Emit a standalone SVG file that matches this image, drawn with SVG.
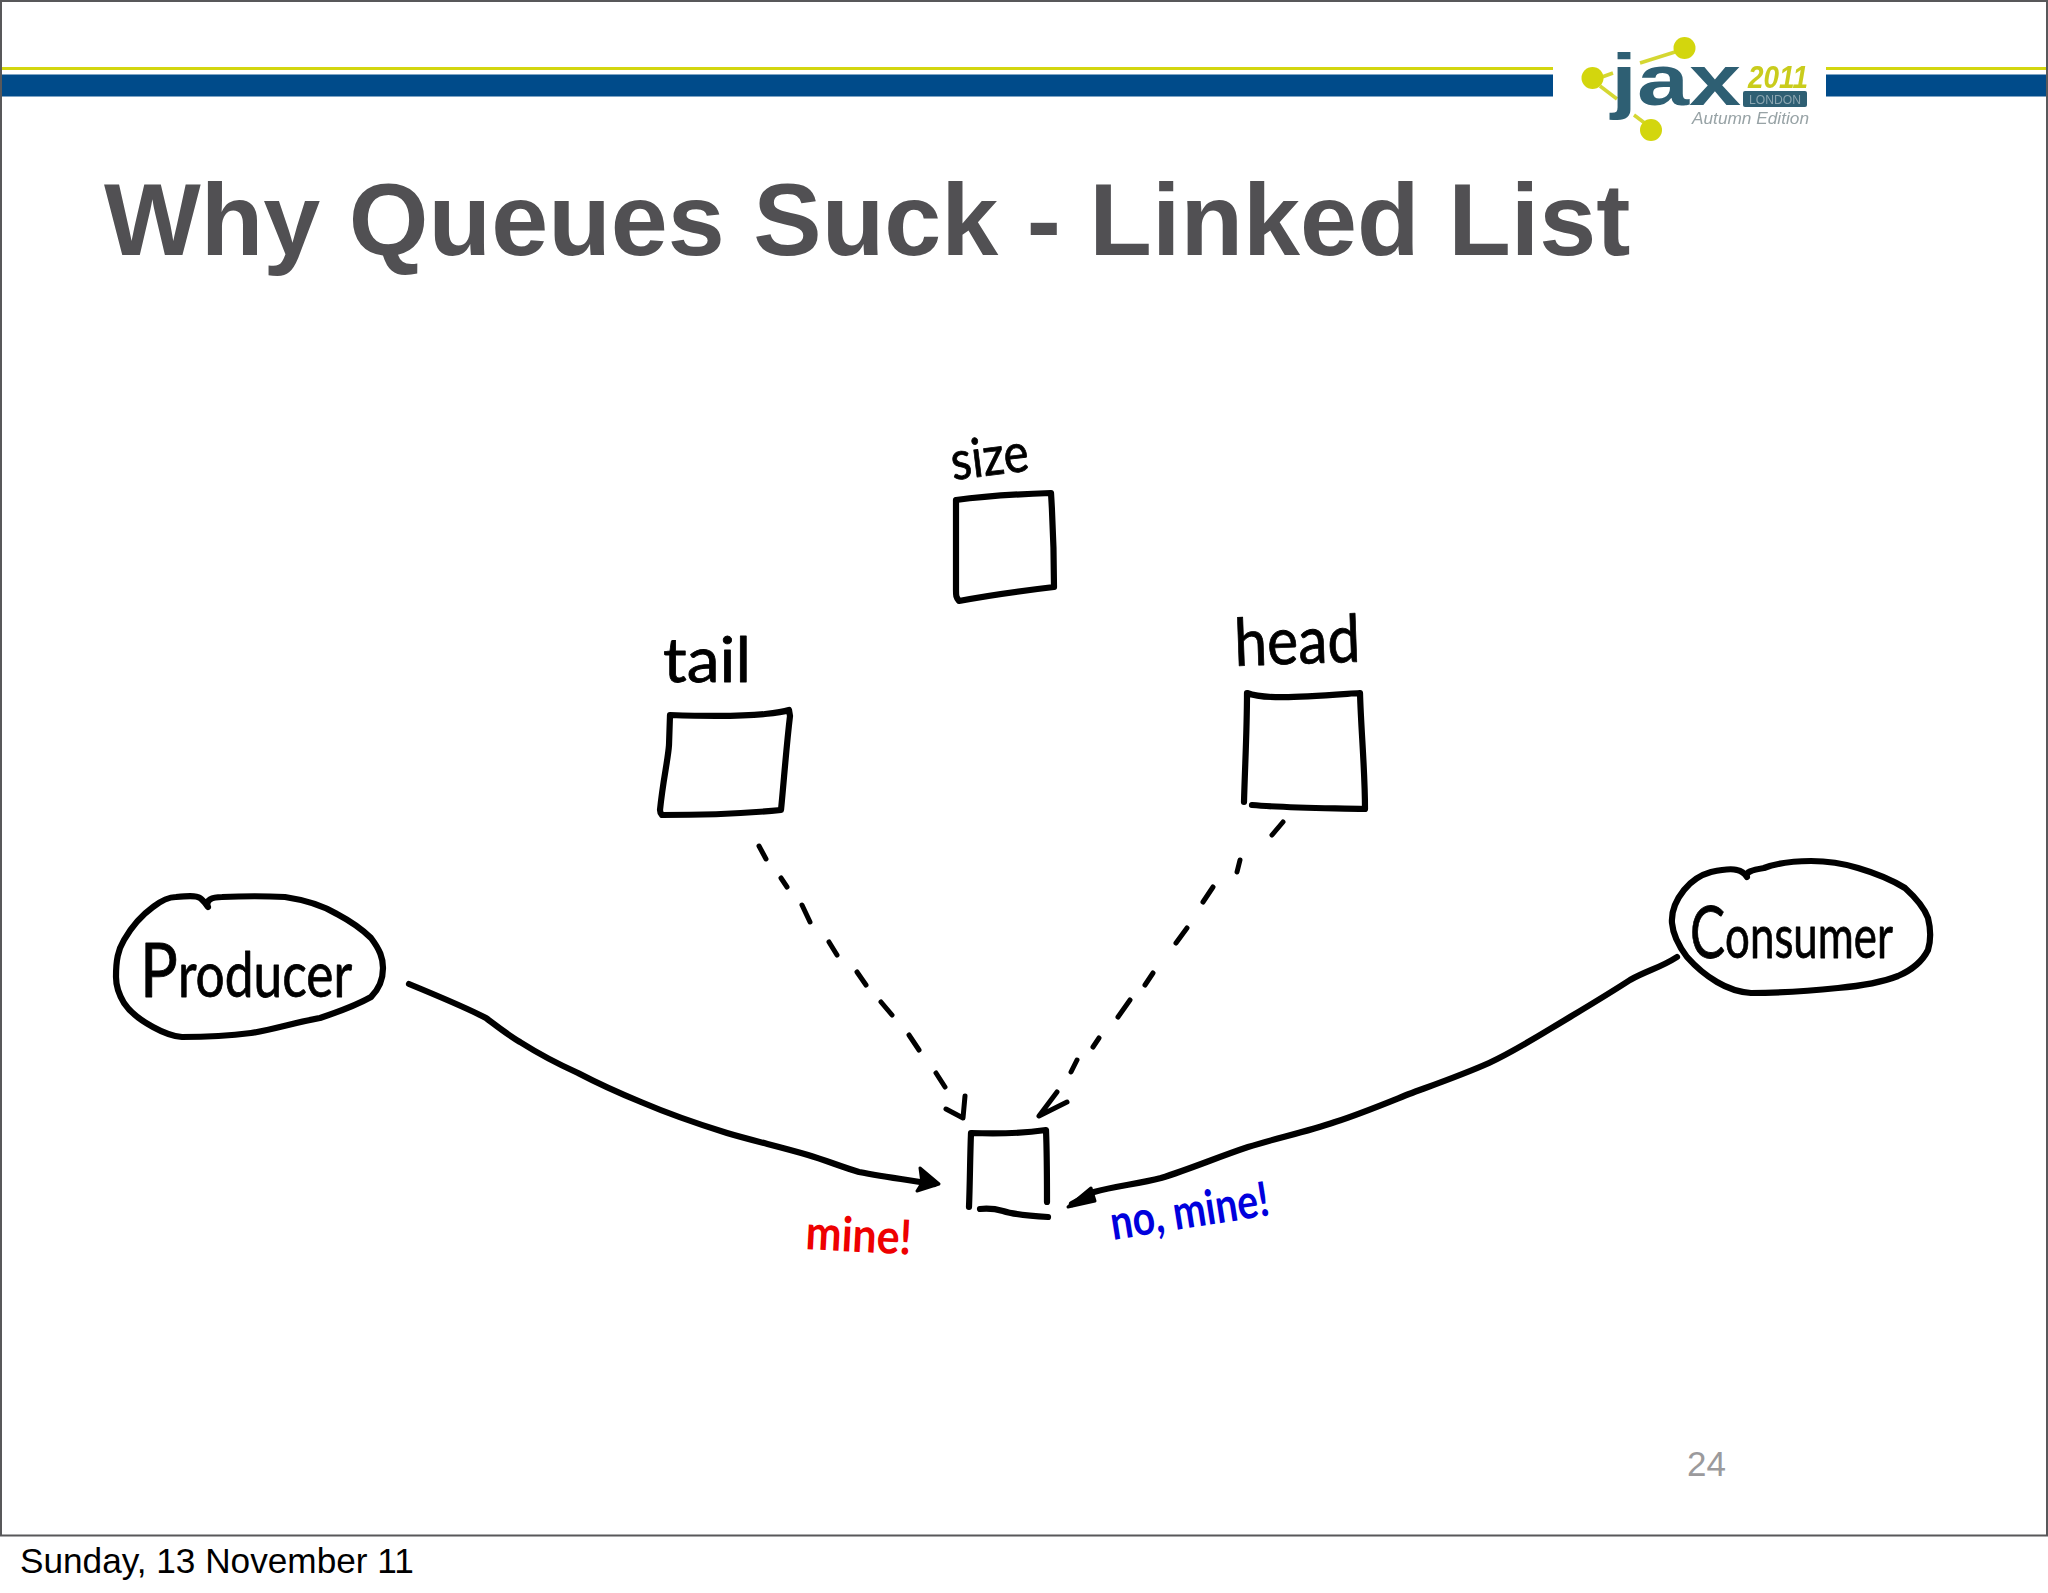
<svg xmlns="http://www.w3.org/2000/svg" width="2048" height="1593" viewBox="0 0 2048 1593">
<style>
.sk{fill:none;stroke:#000;stroke-width:6.2;stroke-linecap:round;stroke-linejoin:round}
.da{fill:none;stroke:#000;stroke-width:5;stroke-linecap:round;stroke-linejoin:round}
.hw{font-family:"Lato","DejaVu Sans",sans-serif;stroke-linejoin:round}
.bar{fill:#004b8a}
.ylw{fill:#d3d60f}
</style>
<defs><filter id="soft" x="-5%" y="-5%" width="110%" height="110%"><feGaussianBlur stdDeviation="0.7"/></filter></defs>
<rect width="2048" height="1593" fill="#fff"/>
<g id="frame" fill="none" stroke="#58585a" stroke-width="2"><path d="M1 1H2047V1535.5H1Z"/></g>
<g id="header">
<rect class="ylw" x="2" y="67" width="1551" height="3"/><rect class="ylw" x="1826" y="67" width="220" height="3"/>
<rect class="bar" x="2" y="74.5" width="1551" height="22"/><rect class="bar" x="1826" y="74.5" width="220" height="22"/>
</g>
<g id="logo" filter="url(#soft)">
<g fill="none" stroke="#d5d733" stroke-width="3.5"><path d="M1640 63L1675 52"/><path d="M1602 77L1613 73"/><path d="M1600 86L1617 99"/><path d="M1634 115L1646 124"/></g>
<g fill="#d3d60f"><circle cx="1684.5" cy="48" r="11"/><circle cx="1592.5" cy="78" r="11"/><circle cx="1651" cy="130" r="11"/></g>
<text transform="translate(1611 105) scale(1.3 1)" font-family="Liberation Sans,sans-serif" font-weight="700" font-size="72" fill="#2f5f73">jax</text>
<text x="1748" y="88" font-family="Liberation Sans,sans-serif" font-weight="700" font-style="italic" font-size="31" fill="#c9cc1e" textLength="60" lengthAdjust="spacingAndGlyphs">2011</text>
<rect x="1743" y="91" width="64" height="16" rx="2" fill="#2f5f73"/>
<text x="1749" y="104" font-family="Liberation Sans,sans-serif" font-size="13" fill="#8aa5b0" textLength="52" lengthAdjust="spacingAndGlyphs">LONDON</text>
<text x="1692" y="124" font-family="Liberation Sans,sans-serif" font-style="italic" font-size="17" fill="#98a3a6" textLength="117" lengthAdjust="spacingAndGlyphs">Autumn Edition</text>
</g>
<text id="title" x="104" y="255" font-family="Liberation Sans,Arial,sans-serif" font-weight="700" font-size="102.5" fill="#515053">Why Queues Suck - Linked List</text>
<g id="connectors">
<path class="sk" d="M409 984C426 991 467 1008 486 1018C498 1027 508 1035 520 1042C539 1054 558 1064 578 1073C599 1084 619 1093 641 1102C669 1114 698 1124 727 1133C754 1141 781 1147 808 1155C825 1160 842 1167 859 1172C884 1177 909 1180 934 1184"/>
<path d="M920 1168L939 1184L917 1191L922 1183Z" fill="#000" stroke="#000" stroke-width="3" stroke-linejoin="round"/>
<path class="sk" d="M1677 957C1660 968 1648 970 1630 980C1610 993 1590 1005 1570 1017C1543 1033 1517 1050 1489 1063C1462 1075 1436 1084 1409 1094C1384 1104 1360 1114 1335 1122C1306 1132 1277 1138 1248 1147C1218 1157 1190 1169 1161 1178C1138 1184 1115 1186 1094 1192L1072 1204"/>
<path d="M1068 1207L1091 1188L1095 1201Z" fill="#000" stroke="#000" stroke-width="3" stroke-linejoin="round"/>
<g id="tail-link"><path class="da" d="M759 846L766 859M781 878L787 887M802 905L810 922M829 942L837 955M857 972L866 985M881 1002L892 1015M909 1035L919 1050M936 1073L945 1087"/><path class="da" d="M965 1096L963 1118L946 1109"/></g>
<g id="head-link"><path class="da" d="M1283 822L1272 835M1240 860L1237 872M1213 887L1203 902M1187 928L1176 943M1153 973L1145 985M1130 1000L1118 1017M1099 1038L1093 1047M1077 1060L1071 1072"/><path class="da" d="M1057 1092L1039 1116L1067 1102"/></g>
</g>
<g id="size">
<path class="sk" d="M956 500C985 496 1020 494 1051 493C1053 525 1054 555 1054 587C1020 591 990 595 959 601C956 597 956 596 956 590Z"/>
<text class="hw" transform="translate(953 480) rotate(-7)" font-size="54" stroke="#000" stroke-width="0.8" textLength="78" lengthAdjust="spacingAndGlyphs">size</text>
</g>
<g id="tail">
<path class="sk" d="M670 715C700 716 745 716 765 714C775 713 783 712 789 710L790 716C786 750 784 780 781 810C740 814 700 815 662 815C660 813 660 811 660 810C663 780 668 760 669 745Z"/>
<text class="hw" x="663" y="682" font-size="62" stroke="#000" stroke-width="0.8" textLength="88" lengthAdjust="spacingAndGlyphs">tail</text>
</g>
<g id="head">
<path class="sk" d="M1244 802C1245 765 1247 730 1247 693C1265 700 1300 697 1360 693C1361 730 1365 770 1365 809C1330 808 1285 808 1252 805"/>
<text class="hw" transform="translate(1235 666) rotate(-2)" font-size="66" stroke="#000" stroke-width="0.8" textLength="126" lengthAdjust="spacingAndGlyphs">head</text>
</g>
<g id="producer">
<path class="sk" d="M208 907C205 900 212 897 222 897C245 896 265 896 285 897C305 900 322 905 337 914C352 922 363 930 371 938C380 950 383 958 383 968C383 982 378 990 371 997C355 1006 338 1012 320 1018C297 1022 272 1030 251 1033C228 1036 205 1037 182 1037C170 1036 162 1032 153 1027C140 1020 130 1012 124 1003C118 993 116 985 116 977C116 960 118 950 124 940C132 926 142 915 153 907C162 900 168 897 176 897C186 896 196 895 200 898C203 900 205 903 208 907Z"/>
<text class="hw" transform="translate(140 997) scale(.83 1)" font-size="62" stroke="#000" stroke-width="0.8"><tspan font-size="76">P</tspan>roducer</text>
</g>
<g id="consumer">
<path class="sk" d="M1747 877C1745 872 1752 870 1764 868C1780 862 1795 861 1811 861C1830 861 1845 864 1858 868C1875 873 1892 880 1905 888C1916 898 1924 907 1928 918C1931 930 1931 940 1928 950C1922 962 1912 970 1898 976C1880 983 1860 986 1838 988C1810 991 1780 993 1751 993C1738 992 1727 988 1717 982C1705 975 1695 966 1687 957C1678 945 1673 935 1672 923C1671 910 1676 900 1684 890C1692 880 1700 875 1711 872C1720 870 1730 868 1737 870C1742 871 1745 874 1747 877Z"/>
<text class="hw" transform="translate(1690 958) scale(.73 1)" font-size="60" stroke="#000" stroke-width="0.8"><tspan font-size="72">C</tspan>onsumer</text>
</g>
<g id="item">
<path class="sk" d="M969 1207C970 1182 970 1158 971 1133C995 1134 1025 1133 1046 1130C1047 1155 1047 1178 1047 1202"/>
<path class="sk" d="M980 1209C990 1208 996 1209 1003 1211C1015 1215 1030 1216 1048 1217"/>
</g>
<text class="hw" id="mine-red" transform="translate(805 1249) rotate(3)" font-size="48" font-weight="700" fill="#ee0000" textLength="106" lengthAdjust="spacingAndGlyphs">mine!</text>
<text class="hw" id="mine-blue" transform="translate(1113 1240) rotate(-9)" font-size="48" font-weight="700" fill="#0000dd" textLength="160" lengthAdjust="spacingAndGlyphs">no, mine!</text>
<text id="page" x="1687" y="1476" font-family="Liberation Sans,Arial,sans-serif" font-size="35" fill="#9b9a9c">24</text>
<text id="date" x="20" y="1573" font-family="Liberation Sans,Arial,sans-serif" font-size="35.2" fill="#000">Sunday, 13 November 11</text>
</svg>
